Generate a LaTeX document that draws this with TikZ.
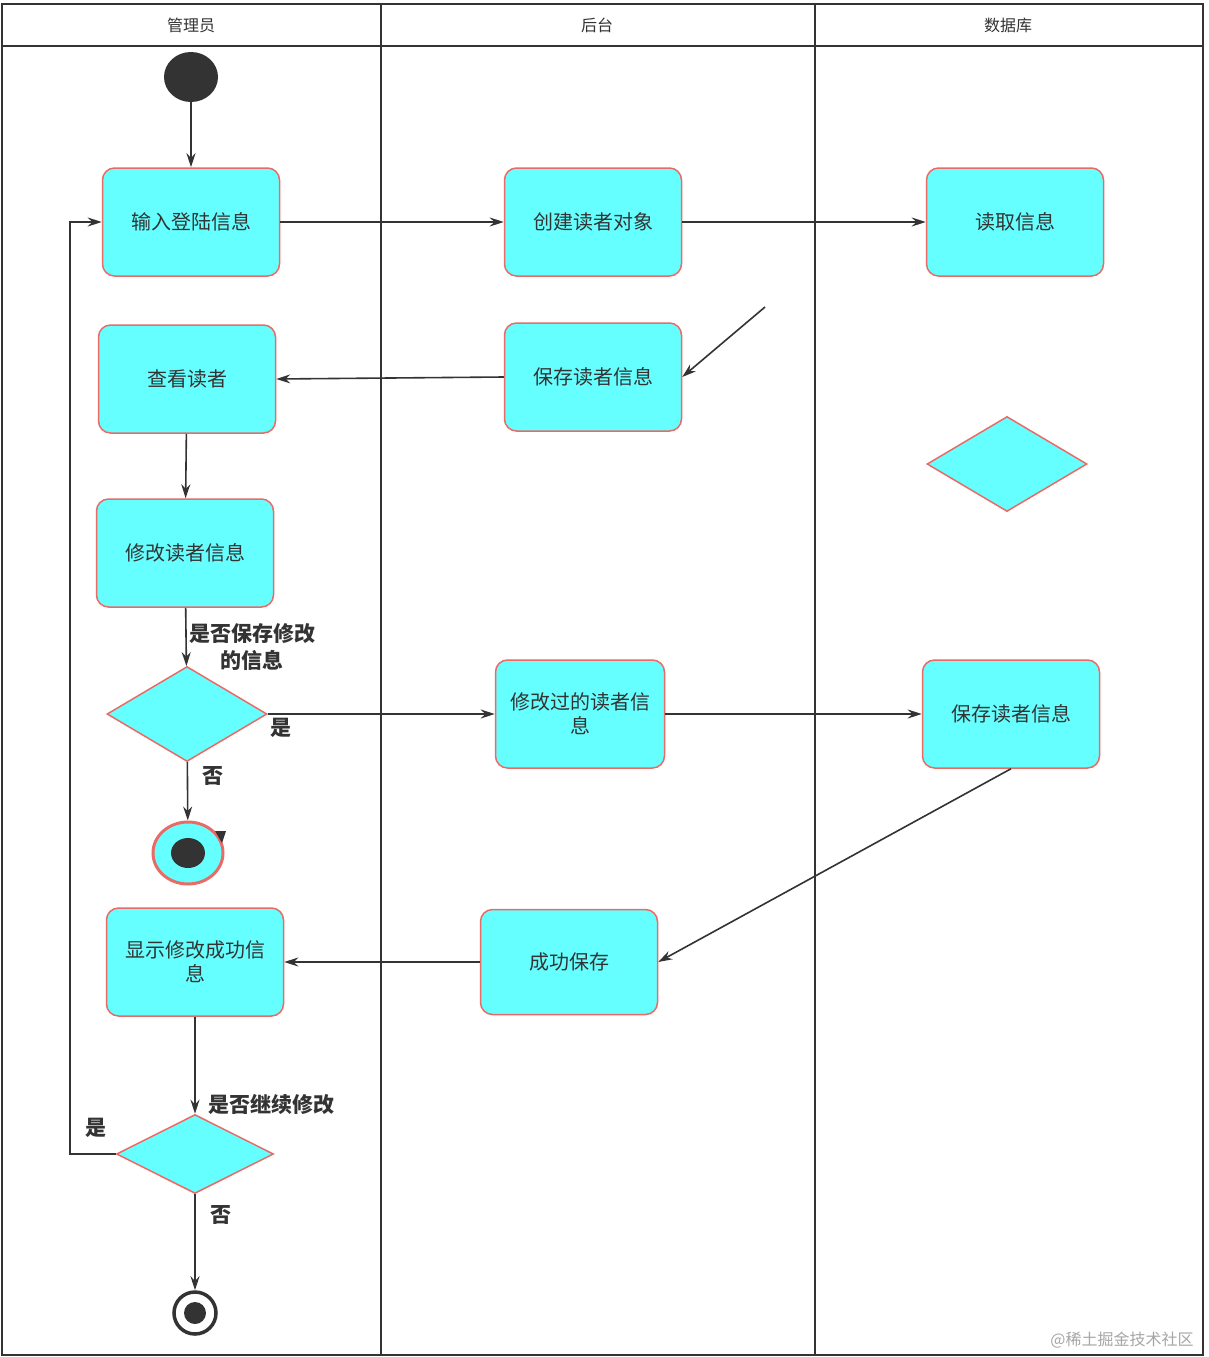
\documentclass[tikz,border=0pt]{standalone}
\usepackage{fontspec}
\setmainfont{Noto Sans CJK SC}
\usepackage{tikz}
\usetikzlibrary{shapes.geometric,arrows.meta}
\definecolor{boxfill}{HTML}{66FFFF}
\definecolor{boxline}{HTML}{EA6B66}
\definecolor{ink}{HTML}{333333}
\begin{document}
\begin{tikzpicture}[x=1pt,y=-1pt,
act/.style={draw=boxline,fill=boxfill,rounded corners=12pt,line width=1.5pt,minimum width=177pt,minimum height=108pt,align=center,font=\fontsize{20}{24}\selectfont,text=ink},
choice/.style={diamond,draw=boxline,fill=boxfill,line width=1.5pt,minimum width=160pt,minimum height=95pt,inner sep=0pt},
flow/.style={draw=ink,line width=1.6pt,-{Stealth[length=14pt,width=9pt]}},
guard/.style={font=\bfseries\fontsize{21}{27}\selectfont,text=ink,align=center},
lanetitle/.style={font=\fontsize{16}{18}\selectfont,text=ink}]
\useasboundingbox (0,0) rectangle (1209,1357);
\fill[white] (0,0) rectangle (1209,1357);
\draw[ink,line width=2pt] (2,4) rectangle (1203,1355);
\draw[ink,line width=2pt] (2,46)--(1203,46) (381,4)--(381,1355) (815,4)--(815,1355);
\node[lanetitle] (hadmin) at (191,25) {管理员};
\node[lanetitle] (hserver) at (597,25) {后台};
\node[lanetitle] (hdb) at (1008,25) {数据库};
\node[ellipse,fill=ink,minimum width=54pt,minimum height=50pt,inner sep=0pt] (start) at (191,77) {};
\node[act] (login) at (191,222) {输入登陆信息};
\node[act] (create) at (593,222) {创建读者对象};
\node[act] (read) at (1015,222) {读取信息};
\node[act] (view) at (187,379) {查看读者};
\node[act] (save1) at (593,377) {保存读者信息};
\node[choice] (check) at (1007,464) {};
\node[act] (edit) at (185,553) {修改读者信息};
\node[choice] (dec1) at (187,714) {};
\node[act,minimum width=169pt] (changed) at (580,714) {修改过的读者信\\息};
\node[act] (save2) at (1011,714) {保存读者信息};
\node[ellipse,draw=boxline,fill=boxfill,line width=3pt,minimum width=70pt,minimum height=62pt,inner sep=0pt] (stop1) at (188,853) {};
\fill[ink] (stop1.center) ellipse [x radius=17pt,y radius=15pt];
\fill[ink] (215,831) -- (226,831) -- (222,843) -- cycle;
\node[act] (show) at (195,962) {显示修改成功信\\息};
\node[act,minimum height=105pt] (ok) at (569,962) {成功保存};
\node[choice,minimum width=157pt,minimum height=79pt] (dec2) at (195,1154) {};
\node[circle,draw=ink,fill=white,line width=3.5pt,minimum size=42pt,inner sep=0pt] (stop2) at (195,1313) {};
\fill[ink] (stop2.center) circle [radius=11pt];
\coordinate (free) at (765,307);
\draw[flow] (start) -- (login);
\draw[flow] (login) -- (create);
\draw[flow] (create) -- (read);
\draw[flow] (free) -- (save1.east);
\draw[flow] (save1.west) -- (view.east);
\draw[flow] (view) -- (edit);
\draw[flow] (edit) -- (dec1);
\draw[flow] (dec1) -- (changed);
\draw[flow] (changed) -- (save2);
\draw[flow] (dec1) -- (stop1);
\draw[flow] (save2.south) -- (ok.east);
\draw[flow] (ok) -- (show);
\draw[flow] (show) -- (dec2);
\draw[flow] (dec2.west) -- ++(-46,0) |- (login.west);
\draw[flow] (dec2) -- (stop2);
\node[guard] (ask1) at (252,647) {是否保存修改\\的信息};
\node[guard] (yes1) at (281,728) {是};
\node[guard] (no1) at (213,776) {否};
\node[guard] (ask2) at (271,1104) {是否继续修改};
\node[guard] (yes2) at (96,1128) {是};
\node[guard] (no2) at (221,1215) {否};
\node[text=black!35,font=\fontsize{16}{18}\selectfont] (mark) at (1122,1340) {@稀土掘金技术社区};
\end{tikzpicture}
\end{document}
